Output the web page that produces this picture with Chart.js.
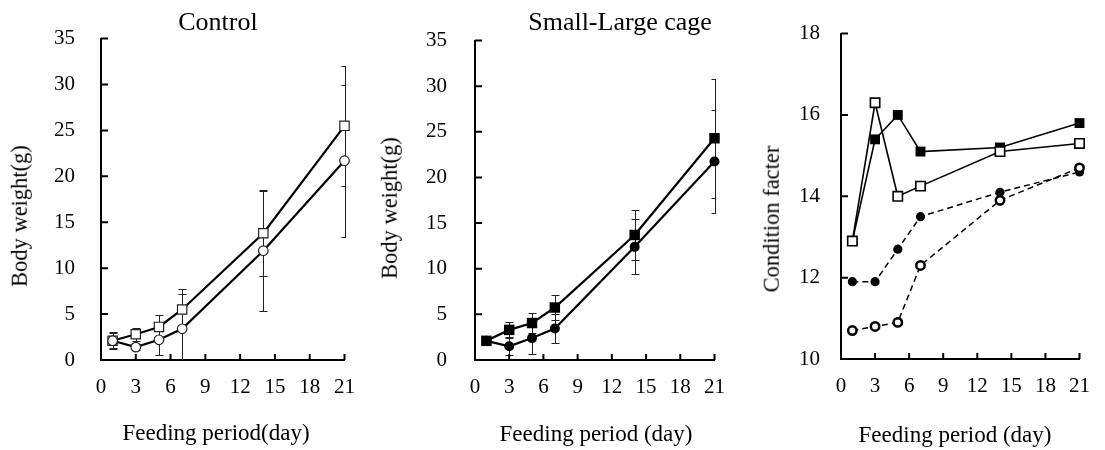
<!DOCTYPE html>
<html><head><meta charset="utf-8">
<script src="https://cdn.jsdelivr.net/npm/chart.js@4.4.1/dist/chart.umd.min.js"></script>
<style>
html,body{margin:0;padding:0;background:#fff;}
#wrap{position:relative;width:1105px;height:450px;overflow:hidden;font-family:'Liberation Serif','Times New Roman',serif;color:#000;}
canvas{position:absolute;top:0;}
.t{position:absolute;white-space:nowrap;line-height:1;transform:translateX(-50%);}
.yt{position:absolute;white-space:nowrap;line-height:1;transform:translate(-50%,-50%) rotate(-90deg);}
</style></head>
<body><div id="wrap">
<canvas id="c1" width="370" height="450" style="left:0px"></canvas>
<canvas id="c2" width="370" height="450" style="left:370px"></canvas>
<canvas id="c3" width="365" height="450" style="left:740px"></canvas>
<div class="t" style="left:218px;top:9px;font-size:26px">Control</div>
<div class="t" style="left:620px;top:9px;font-size:26px">Small-Large cage</div>
<div class="t" style="left:216px;top:421px;font-size:23px">Feeding period(day)</div>
<div class="t" style="left:596px;top:422px;font-size:23px">Feeding period (day)</div>
<div class="t" style="left:955px;top:423px;font-size:23px">Feeding period (day)</div>
<div class="yt" style="left:19.5px;top:216px;font-size:22.5px">Body weight(g)</div>
<div class="yt" style="left:389.5px;top:208px;font-size:22.5px">Body weight(g)</div>
<div class="yt" style="left:771.5px;top:219px;font-size:22.5px">Condition facter</div>
</div>
<script>
// ---- data ----
const days = [1, 3, 5, 7, 14, 21];
const xTickLabels = [0, 3, 6, 9, 12, 15, 18, 21];
const bwTickLabels = [0, 5, 10, 15, 20, 25, 30, 35];
const cfTickLabels = [10, 12, 14, 16, 18];

// Control (open markers)
const ctrlSquare = [2.1, 2.8, 3.6, 5.5, 13.8, 25.5];
const ctrlSquareErr = [0.8, 0.7, 1.3, 2.2, 4.6, 6.5];
const ctrlCircle = [2.1, 1.4, 2.2, 3.4, 11.9, 21.7];
const ctrlCircleErr = [0.9, 0.3, 1.7, 3.8, 6.6, 8.3];

// Small-Large cage (filled markers)
const slSquare = [2.1, 3.3, 4.05, 5.75, 13.7, 24.3];
const slSquareErr = [0, 0.9, 1.05, 1.35, 2.75, 6.5];
const slCircle = [2.1, 1.5, 2.4, 3.45, 12.4, 21.75];
const slCircleErr = [0, 1.0, 1.75, 1.55, 3.0, 5.6];

// Condition factor
const cfFilledSquare = [12.9, 15.4, 16.0, 15.1, 15.2, 15.8];
const cfOpenSquare = [12.9, 16.3, 14.0, 14.25, 15.1, 15.3];
const cfFilledCircle = [11.9, 11.9, 12.7, 13.5, 14.1, 14.6];
const cfOpenCircle = [10.7, 10.8, 10.9, 12.3, 13.9, 14.7];

const FONT = "'Liberation Serif', 'Times New Roman', serif";

const axisPlugin = {
  id: 'axisDeco',
  beforeDatasetsDraw(chart) {
    const {ctx, chartArea: a, scales: {x, y}} = chart;
    // error bars (clipped to plot area like the original)
    ctx.save();
    ctx.beginPath();
    ctx.rect(a.left, a.top - 1, a.right - a.left + 1.5, a.bottom - a.top + 1);
    ctx.clip();
    ctx.strokeStyle = '#222';
    ctx.lineWidth = 1;
    chart.data.datasets.forEach(ds => {
      if (!ds.errorBars) return;
      ds.data.forEach((v, i) => {
        const e = ds.errorBars[i];
        if (!e) return;
        const px = Math.round(x.getPixelForValue(chart.data.labels[i])) + 0.5;
        const yt = Math.round(y.getPixelForValue(v + e)) + 0.5;
        const yb = Math.round(y.getPixelForValue(v - e)) + 0.5;
        ctx.beginPath();
        ctx.moveTo(px, yt); ctx.lineTo(px, yb);
        ctx.moveTo(px - 4, yt); ctx.lineTo(px + 4, yt);
        ctx.moveTo(px - 4, yb); ctx.lineTo(px + 4, yb);
        ctx.stroke();
      });
    });
    ctx.restore();
    // inward tick marks
    ctx.save();
    ctx.strokeStyle = '#000';
    ctx.lineWidth = 2;
    ctx.beginPath();
    x.ticks.forEach(t => {
      if (t.value === x.min) return;
      const px = x.getPixelForValue(t.value);
      ctx.moveTo(px, a.bottom); ctx.lineTo(px, a.bottom - 6);
    });
    y.ticks.forEach(t => {
      if (t.value === y.min) return;
      const py = y.getPixelForValue(t.value);
      ctx.moveTo(a.left, py); ctx.lineTo(a.left + 7, py);
    });
    ctx.stroke();
    ctx.restore();
  }
};

function makePanel(id, cfg) {
  return new Chart(document.getElementById(id), {
    type: 'line',
    data: { labels: days, datasets: cfg.datasets },
    options: {
      responsive: false,
      animation: false,
      devicePixelRatio: 1,
      layout: { padding: { top: cfg.area.top, right: cfg.w - cfg.area.right, bottom: 0, left: 0 } },
      plugins: { legend: { display: false }, tooltip: { enabled: false }, title: { display: false } },
      scales: {
        x: {
          type: 'linear', min: 0, max: 21,
          afterBuildTicks: s => { s.ticks = xTickLabels.map(v => ({ value: v })); },
          afterFit: s => { s.height = cfg.h - cfg.area.bottom; },
          grid: { display: true, drawOnChartArea: false, drawTicks: false },
          border: { display: true, color: '#000', width: 2 },
          ticks: { padding: 15, color: '#000', font: { family: FONT, size: 21 }, maxRotation: 0, autoSkip: false }
        },
        y: {
          type: 'linear', min: cfg.yTicks[0], max: cfg.yTicks[cfg.yTicks.length - 1],
          afterBuildTicks: s => { s.ticks = cfg.yTicks.map(v => ({ value: v })); },
          afterFit: s => { s.width = cfg.area.left; },
          grid: { display: true, drawOnChartArea: false, drawTicks: false },
          border: { display: true, color: '#000', width: 2 },
          ticks: { padding: cfg.yPad, color: '#000', font: { family: FONT, size: 21 }, autoSkip: false }
        }
      }
    },
    plugins: [axisPlugin]
  });
}

function ds(label, data, opts) {
  return Object.assign({
    label, data, borderColor: '#000', borderWidth: 2.2, tension: 0, clip: false,
    pointBorderColor: '#222', pointBorderWidth: 1.2, pointHoverRadius: 0
  }, opts);
}

makePanel('c1', {
  w: 370, h: 450, area: { left: 101, right: 351, top: 31, bottom: 360 }, yTicks: bwTickLabels, yPad: 26,
  datasets: [
    ds('Control circle', ctrlCircle, { pointStyle: 'circle', pointRadius: 4.8, pointBackgroundColor: '#fff', errorBars: ctrlCircleErr }),
    ds('Control square', ctrlSquare, { pointStyle: 'rect', pointRadius: 6.6, pointBackgroundColor: '#fff', errorBars: ctrlSquareErr })
  ]
});

makePanel('c2', {
  w: 370, h: 450, area: { left: 105, right: 355, top: 32, bottom: 360 }, yTicks: bwTickLabels, yPad: 28,
  datasets: [
    ds('Small-Large square', slSquare, { pointStyle: 'rect', pointRadius: 7.4, pointBackgroundColor: '#000', pointBorderColor: '#000', pointBorderWidth: 0, errorBars: slSquareErr }),
    ds('Small-Large circle', slCircle, { pointStyle: 'circle', pointRadius: 5, pointBackgroundColor: '#000', pointBorderColor: '#000', pointBorderWidth: 0, errorBars: slCircleErr })
  ]
});

makePanel('c3', {
  w: 365, h: 450, area: { left: 101, right: 349, top: 31, bottom: 359 }, yTicks: cfTickLabels, yPad: 21,
  datasets: [
    ds('CF open square', cfOpenSquare, { borderWidth: 1.6, pointStyle: 'rect', pointRadius: 6.6, pointBackgroundColor: '#fff', pointBorderColor: '#000', pointBorderWidth: 1.6 }),
    ds('CF filled square', cfFilledSquare, { borderWidth: 1.6, pointStyle: 'rect', pointRadius: 7, pointBackgroundColor: '#000', pointBorderColor: '#000', pointBorderWidth: 0 }),
    ds('CF open circle', cfOpenCircle, { borderWidth: 1.5, borderDash: [6, 4], pointStyle: 'circle', pointRadius: 4.2, pointBackgroundColor: '#fff', pointBorderColor: '#000', pointBorderWidth: 2.5 }),
    ds('CF filled circle', cfFilledCircle, { borderWidth: 1.5, borderDash: [6, 4], pointStyle: 'circle', pointRadius: 4.6, pointBackgroundColor: '#000', pointBorderColor: '#000', pointBorderWidth: 0 })
  ]
});
</script>
</body></html>
